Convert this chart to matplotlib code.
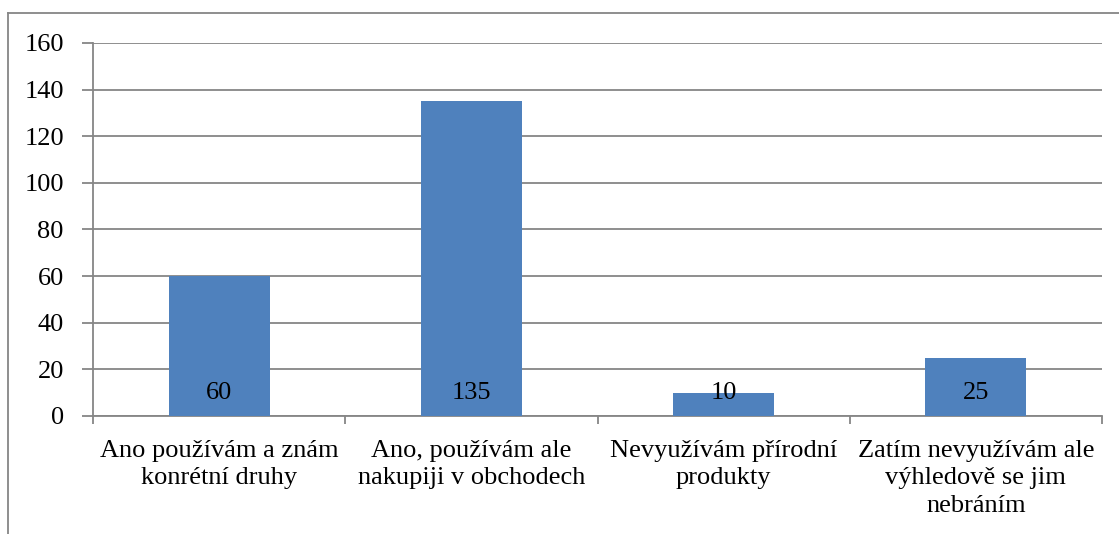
import matplotlib
matplotlib.use('Agg')
import matplotlib.pyplot as plt
from matplotlib.lines import Line2D

# data
categories = ['Ano používám a znám\nkonrétní druhy',
              'Ano, používám ale\nnakupiji v obchodech',
              'Nevyužívám přírodní\nprodukty',
              'Zatím nevyužívám ale\nvýhledově se jim\nnebráním']
values = [60, 135, 10, 25]
yticks = [0, 20, 40, 60, 80, 100, 120, 140, 160]

plt.rcParams['font.family'] = ['Liberation Serif', 'DejaVu Serif']
plt.rcParams['font.size'] = 19

fig = plt.figure(figsize=(11.19, 5.34), dpi=100)
ax = fig.add_axes([93 / 1119, 1 - 416 / 534, (1102 - 93) / 1119, (416 - 43) / 534])

grid_color = '#868686'
x = list(range(len(values)))
ax.bar(x, values, width=0.4, color='#4f81bd', zorder=3)

# labels inside the base of each bar
for xi, v in zip(x, values):
    ax.annotate(str(v), xy=(xi, 0), xytext=(0, 12), textcoords='offset points',
                ha='center', va='baseline', fontsize=19, color='black', zorder=4)

ax.set_xlim(-0.5, len(values) - 0.5)
ax.set_ylim(0, 160)
ax.set_yticks(yticks)
ax.yaxis.grid(True, color=grid_color, linewidth=1.3)
ax.set_axisbelow(True)

# category boundaries as ticks, labels in between
ax.set_xticks([i - 0.5 for i in range(len(values) + 1)])
ax.set_xticklabels([])
ax.set_xticks(x, minor=True)
ax.set_xticklabels(categories, minor=True, linespacing=1.34, va='top')
ax.tick_params(axis='x', which='minor', length=0, pad=17)
ax.tick_params(axis='x', which='major', length=6, color=grid_color, width=1.3)
ax.tick_params(axis='y', length=8, color=grid_color, width=1.3, pad=13)

for s in ['top', 'right']:
    ax.spines[s].set_visible(False)
for s in ['left', 'bottom']:
    ax.spines[s].set_color(grid_color)
    ax.spines[s].set_linewidth(1.3)

# outer frame (top and left edges)
fy = 1 - 13 / 534
fx = 8 / 1119
fig.add_artist(Line2D([fx, 1], [fy, fy], color=grid_color, linewidth=1.3, transform=fig.transFigure))
fig.add_artist(Line2D([fx, fx], [0, fy], color=grid_color, linewidth=1.3, transform=fig.transFigure))

fig.savefig('out.png', dpi=100)
